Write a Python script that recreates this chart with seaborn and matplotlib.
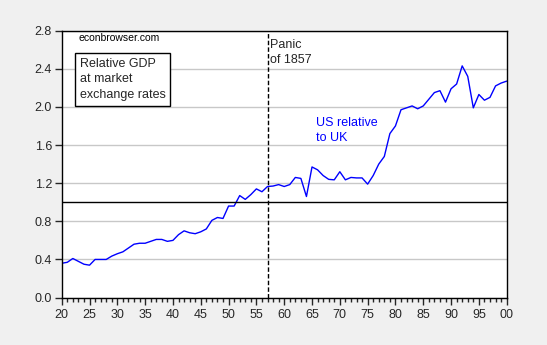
import matplotlib
matplotlib.use("Agg")
import matplotlib.pyplot as plt
import seaborn as sns
import pandas as pd
from matplotlib.ticker import MultipleLocator, FixedLocator

years = list(range(1820, 1901))
ratio = [0.36, 0.37, 0.41, 0.38, 0.35, 0.34, 0.40, 0.40, 0.40, 0.435,
         0.46, 0.48, 0.52, 0.56, 0.57, 0.57, 0.59, 0.61, 0.61, 0.59,
         0.60, 0.66, 0.70, 0.68, 0.67, 0.69, 0.72, 0.81, 0.84, 0.83,
         0.96, 0.96, 1.07, 1.03, 1.08, 1.14, 1.11, 1.165, 1.17, 1.185,
         1.165, 1.185, 1.26, 1.25, 1.06, 1.37, 1.34, 1.28, 1.24, 1.235,
         1.32, 1.235, 1.26, 1.255, 1.255, 1.19, 1.28, 1.40, 1.48, 1.72,
         1.80, 1.97, 1.99, 2.01, 1.98, 2.01, 2.08, 2.15, 2.17, 2.05,
         2.19, 2.24, 2.43, 2.32, 1.99, 2.13, 2.07, 2.10, 2.22, 2.25, 2.27]
xtick_years = list(range(1820, 1901, 5))
xtick_labels = ["20", "25", "30", "35", "40", "45", "50", "55", "60",
                "65", "70", "75", "80", "85", "90", "95", "00"]
ytick_vals = [0.0, 0.4, 0.8, 1.2, 1.6, 2.0, 2.4, 2.8]
ytick_labels = ["0.0", "0.4", "0.8", "1.2", "1.6", "2.0", "2.4", "2.8"]
panic_year = 1857
parity = 1.0

sns.set_style("white")
plt.rcParams['font.family'] = ['Liberation Sans', 'DejaVu Sans']

df = pd.DataFrame({"year": years, "ratio": ratio})

fig = plt.figure(figsize=(5.47, 3.45), dpi=100, facecolor="#F0F0F0")
ax = fig.add_axes([0.1128, 0.1374, 0.9263 - 0.1128, 0.9113 - 0.1374])
ax.set_facecolor("white")

ax.set_xlim(1820, 1900)
ax.set_ylim(0, 2.8)
ax.yaxis.set_major_locator(FixedLocator(ytick_vals))
ax.set_yticklabels(ytick_labels)
ax.grid(axis="y", color="#C8C8C8", linewidth=1.0)
ax.set_axisbelow(True)

sns.lineplot(data=df, x="year", y="ratio", color="#0000FF", linewidth=1.0, ax=ax)
ax.axhline(parity, color="black", linewidth=1.0)
ax.axvline(panic_year, color="black", linewidth=1.0, linestyle=(0, (3.2, 1.6)))

ax.xaxis.set_major_locator(FixedLocator(xtick_years))
ax.set_xticklabels(xtick_labels)
ax.xaxis.set_minor_locator(MultipleLocator(1))
ax.tick_params(axis="x", which="major", direction="out", length=5, width=1,
               labelsize=9, bottom=True, top=False, pad=3)
ax.tick_params(axis="x", which="minor", direction="out", length=3, width=1, bottom=True)
ax.tick_params(axis="y", which="major", direction="out", length=5, width=1,
               labelsize=9, left=True, right=False, pad=2)
ax.set_xlabel("")
ax.set_ylabel("")
for s in ax.spines.values():
    s.set_color("black")
    s.set_linewidth(1.0)

ax.text(0.037, 0.972, "econbrowser.com", transform=ax.transAxes, fontsize=7.5,
        ha="left", va="center", color="black")
ax.text(0.040, 0.898, "Relative GDP\nat market\nexchange rates", transform=ax.transAxes,
        fontsize=9, ha="left", va="top", linespacing=1.38,
        bbox=dict(boxstyle="square,pad=0.4", facecolor="white", edgecolor="black", linewidth=1))
ax.text(1857.5, 2.715, "Panic\nof 1857", fontsize=9, ha="left", va="top", linespacing=1.38)
ax.text(1865.7, 1.895, "US relative\nto UK", fontsize=9, ha="left", va="top",
        color="#0000FF", linespacing=1.38)

fig.savefig("out.png", dpi=100, facecolor=fig.get_facecolor())
